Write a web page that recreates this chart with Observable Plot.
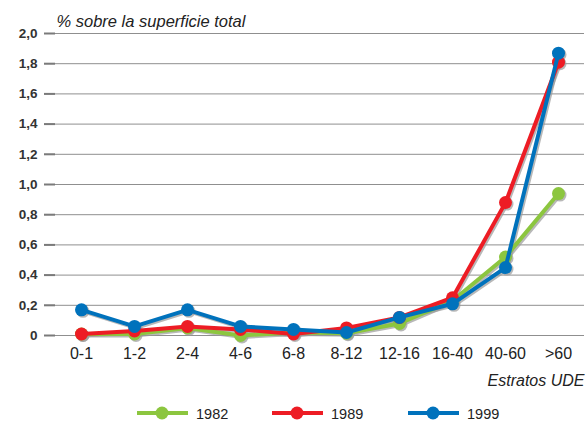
<!DOCTYPE html>
<html><head><meta charset="utf-8">
<script src="https://cdn.jsdelivr.net/npm/d3@7"></script>
<script src="https://cdn.jsdelivr.net/npm/@observablehq/plot@0.6"></script>
<style>
body{margin:0;background:#fff;font-family:"Liberation Sans",Arial,sans-serif;}
#legend{height:25px;position:relative;}
</style></head>
<body><div id="chart"></div><div id="legend"></div>
<script>
const categories = ["0-1","1-2","2-4","4-6","6-8","8-12","12-16","16-40","40-60",">60"];
const years = ["1982","1989","1999"];
const colors = ["#8cc63f","#ed1c24","#0072bc"];
const v1982 = [0.01,0.01,0.05,0.00,0.02,0.015,0.08,0.23,0.52,0.94];
const v1989 = [0.01,0.03,0.06,0.04,0.01,0.05,0.12,0.25,0.88,1.81];
const v1999 = [0.17,0.06,0.17,0.06,0.04,0.02,0.12,0.21,0.45,1.87];
const yTicks = [0,0.2,0.4,0.6,0.8,1.0,1.2,1.4,1.6,1.8,2.0];
const yTitle = "% sobre la superficie total";
const xTitle = "Estratos UDE";

const series = [v1982,v1989,v1999];
const data = [];
series.forEach((vals,i)=>vals.forEach((v,j)=>data.push({year:years[i],cat:categories[j],value:v})));

const W=586,H=398,mL=44,mR=2,mT=33,mB=63;
const fmt = d => d===0 ? "0" : d.toFixed(1).replace(".",",");

const marks = [
  Plot.ruleY(yTicks,{stroke:"#8f8f8f",strokeWidth:1}),
  Plot.ruleY(yTicks,{stroke:"#7a7a7a",strokeWidth:2,insetRight:(W-mL-mR)-11}),
  Plot.axisY({ticks:yTicks,tickFormat:fmt,tickSize:0,tickPadding:7,label:null,fontWeight:"bold",fontSize:13.5,fill:"#333"}),
  Plot.axisX({tickSize:0,tickPadding:12,label:null,fontSize:16,fill:"#222"}),
  Plot.text([yTitle],{frameAnchor:"top-left",dx:12,dy:-7,textAnchor:"start",lineAnchor:"bottom",fontStyle:"italic",fontSize:16.5,fill:"#222"}),
  Plot.text([xTitle],{frameAnchor:"bottom-right",dx:0,dy:50,textAnchor:"end",lineAnchor:"bottom",fontStyle:"italic",fontSize:16,fill:"#222"})
];
// shadows
years.forEach(y=>{
  const d = data.filter(r=>r.year===y);
  marks.push(Plot.line(d,{x:"cat",y:"value",stroke:"#9a9a9a",strokeOpacity:0.7,strokeWidth:4,dx:1.5,dy:1.5}));
  marks.push(Plot.dot(d,{x:"cat",y:"value",r:6.5,fill:"#9a9a9a",fillOpacity:0.7,dx:1.5,dy:1.5}));
});
years.forEach((y,i)=>{
  const d = data.filter(r=>r.year===y);
  marks.push(Plot.line(d,{x:"cat",y:"value",stroke:colors[i],strokeWidth:4}));
  marks.push(Plot.dot(d,{x:"cat",y:"value",r:6.5,fill:colors[i]}));
});

const chart = Plot.plot({
  width:W,height:H,marginLeft:mL,marginRight:mR,marginTop:mT,marginBottom:mB,
  style:{fontFamily:"'Liberation Sans',Arial,sans-serif",background:"#fff"},
  x:{type:"point",domain:categories,range:[81,558],padding:0},
  y:{domain:[0,2],range:[H-mB,mT]},
  marks
});
document.getElementById("chart").appendChild(chart);

// legend
const leg = d3.select("#legend").append("svg").attr("width",W).attr("height",25)
  .style("font-family","'Liberation Sans',Arial,sans-serif");
const lx = [137,272,408];
years.forEach((y,i)=>{
  const g = leg.append("g").attr("transform",`translate(${lx[i]},15)`);
  g.append("line").attr("x1",0).attr("x2",51).attr("y1",0).attr("y2",0).attr("stroke",colors[i]).attr("stroke-width",4);
  g.append("circle").attr("cx",25).attr("cy",0).attr("r",6.5).attr("fill",colors[i]);
  g.append("text").attr("x",59).attr("y",5.5).attr("font-size",14.5).attr("fill","#222").text(y);
});
</script></body></html>
